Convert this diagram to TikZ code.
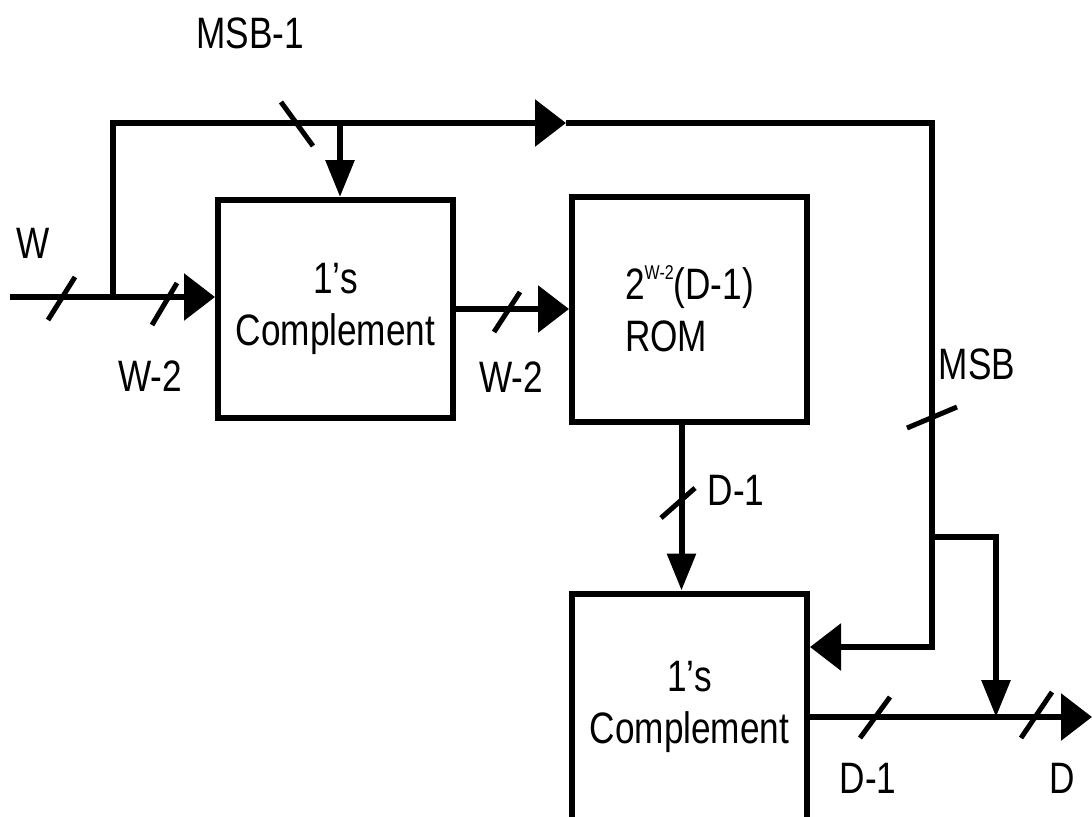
\documentclass[tikz,border=0pt]{standalone}
\usepackage{fontspec}
\setmainfont{Liberation Sans}[FakeStretch=0.8]
\usepackage{tikz}
\usetikzlibrary{arrows.meta, positioning, calc}

\begin{document}
\begin{tikzpicture}[
  x=0.5pt, y=-0.5pt,
  font=\fontsize{22}{26}\selectfont,
  every node/.style={align=center},
  box/.style={draw, line width=3pt, minimum width=117.5pt, inner sep=0pt},
  line/.style={line width=3pt},
  harr/.style={line, -{Triangle[length=15.5pt, width=23pt]}},
  varr/.style={line, -{Triangle[length=18.5pt, width=14pt]}},
  slash/.style={line width=2.5pt},
  lbl/.style={inner sep=0pt},
]
\clip (0,0) rectangle (1092,816);

% blocks
\node[box, minimum height=109pt] (cmpl1) at (335.5,309) {1’s\\Complement};
\node[box, minimum height=112.5pt, right=56.5pt of cmpl1, align=left]
  (rom) {2\raisebox{0.45em}{\fontsize{10}{10}\selectfont W-2}(D-1)\\ROM};
\node[box, minimum height=113.5pt, below=83pt of rom] (cmpl2) {1’s\\Complement};

% wire corners
\coordinate (win) at (10,297);
\coordinate (jw) at (113,297);
\coordinate (jtop) at (113,123);
\coordinate (atop) at (566,123);
\coordinate (b1in) at (340,123);
\coordinate (cmsb) at (932,123);
\coordinate (cj) at (932,537);
\coordinate (cbend) at (932,647);
\coordinate (dj) at (996,717);
\coordinate (dout) at (1092,717);
\coordinate (rout) at ($(rom.south)+(-8,0)$);

% wires
\draw[line] (win) -- (jw);
\draw[harr] (jw) -- (jw -| cmpl1.west);
\draw[harr] (jw) -- (jtop) -- (atop);
\draw[varr] (b1in) -- (b1in |- cmpl1.north);
\draw[harr] (atop) -- (cmsb) -- (cbend) -- (cbend -| cmpl2.east);
\draw[harr] (cmpl1.east) -- (cmpl1.east -| rom.west);
\draw[varr] (rout) -- (rout |- cmpl2.north);
\draw[varr] (cj) -- (cj -| dj) -- (dj);
\draw[harr] (cmpl2.east |- dout) -- (dout);

% bus width marks
\foreach \cx/\cy/\dx/\dy in {61.5/298.5/13.5/-21.5, 164.5/304/12.5/-21, 297/124/16/22,
    507/312/13/-20, 678/503/17/-15, 932/417.5/25/-10.5, 875/717.5/15/-20.5, 1036.5/715/15.5/-23}
  \draw[slash] (\cx-\dx,\cy-\dy) -- (\cx+\dx,\cy+\dy);

% labels
\node[lbl] (lmsb1) at (250,33) {MSB-1};
\node[lbl] (lw) at (33,243) {W};
\node[lbl] (lw2a) at (150,376) {W-2};
\node[lbl] (lw2b) at (511,377) {W-2};
\node[lbl] (ld1a) at (736,490) {D-1};
\node[lbl] (lmsb) at (977,364) {MSB};
\node[lbl] (ld1b) at (868,778) {D-1};
\node[lbl] (ld) at (1062,778) {D};

\end{tikzpicture}
\end{document}
